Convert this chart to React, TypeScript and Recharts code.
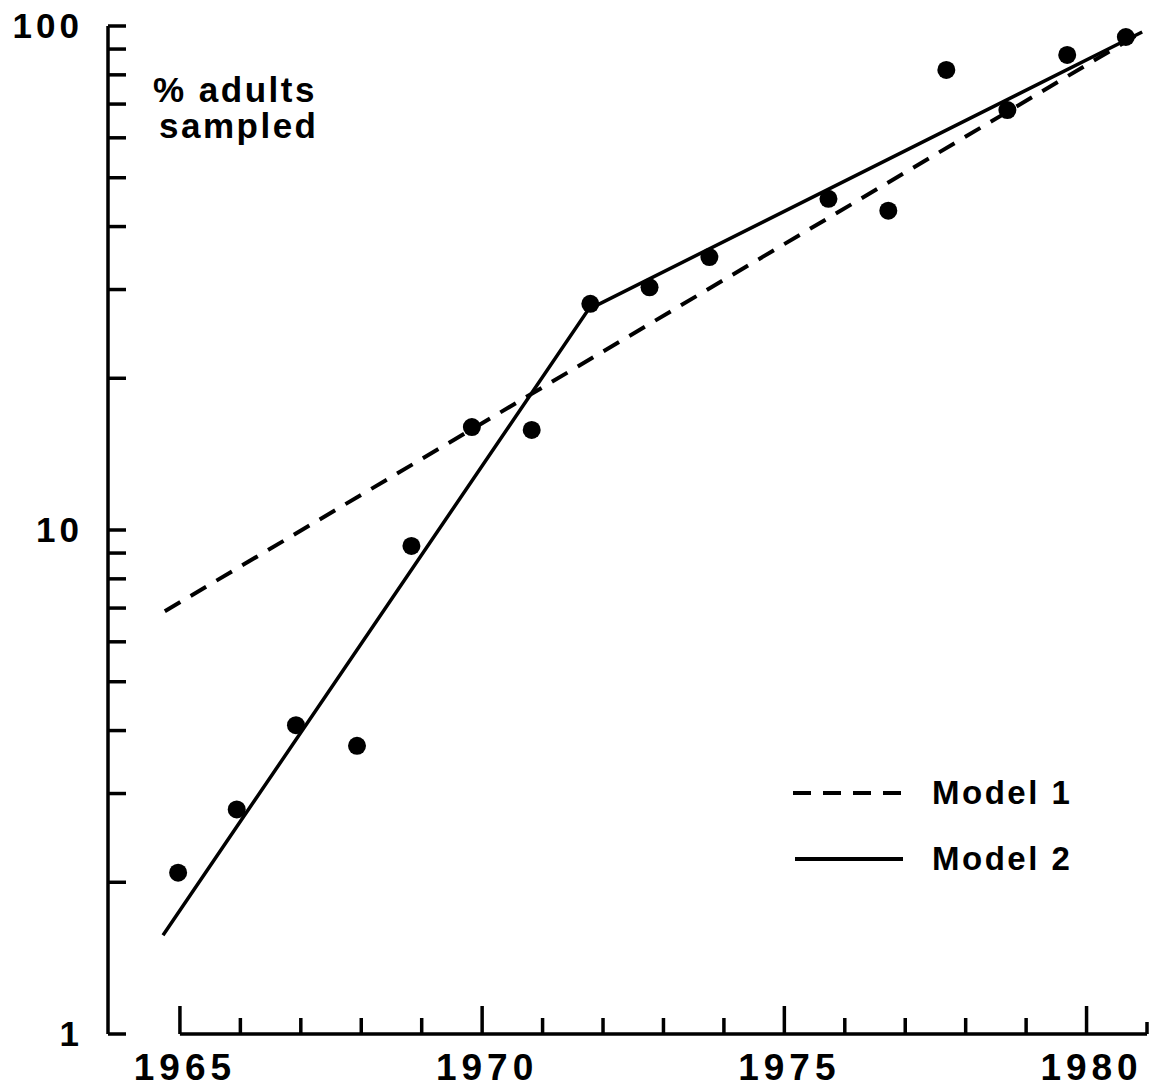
import React from "react";
import {
  ComposedChart,
  Line,
  Scatter,
  XAxis,
  YAxis,
  ReferenceLine,
  Legend,
} from "recharts";

const sampleYears = [
  1964.97, 1965.94, 1966.92, 1967.93, 1968.83, 1969.83, 1970.82, 1971.79,
  1972.77, 1973.76, 1975.73, 1976.72, 1977.68, 1978.69, 1979.68, 1980.65,
];
const samplePct = [
  2.09, 2.79, 4.1, 3.73, 9.3, 16.0, 15.8, 28.1, 30.3, 34.8, 45.4, 43.0, 81.8,
  68.1, 87.6, 95.1,
];

// fitted models (end points / break point)
const model1Years = [1964.75, 1980.92];
const model1Pct = [6.9, 97.3];
const model2Years = [1964.72, 1971.76, 1980.92];
const model2Pct = [1.57, 27.4, 97.3];

const xTicks = [
  1965, 1966, 1967, 1968, 1969, 1970, 1971, 1972, 1973, 1974, 1975, 1976,
  1977, 1978, 1979, 1980, 1981,
];
const xLabels = [1965, 1970, 1975, 1980];
const yTicks = [
  1, 2, 3, 4, 5, 6, 7, 8, 9, 10, 20, 30, 40, 50, 60, 70, 80, 90, 100,
];
const yLabels = [1, 10, 100];

const toRows = (xs: number[], ys: number[]) =>
  xs.map((year, i) => ({ year, pct: ys[i] }));

const samples = toRows(sampleYears, samplePct);
const model1 = toRows(model1Years, model1Pct);
const model2 = toRows(model2Years, model2Pct);

const FONT = '"Liberation Sans", Arial, Helvetica, sans-serif';
const TICK_SIZE = 6;
const TICK_MARGIN = 4;
const DASH = "18 12";

const XTick = (props: any) => {
  const { x, y, payload } = props;
  const v = payload.value;
  const axisY = y - TICK_SIZE - TICK_MARGIN;
  const major = xLabels.includes(v);
  const len = major ? 28 : v === 1981 ? 12 : 16;
  return (
    <g>
      <line
        x1={x}
        x2={x}
        y1={axisY}
        y2={axisY - len}
        stroke="#000"
        strokeWidth={3.5}
      />
      {major && (
        <text
          x={x + 5}
          y={axisY + 46}
          textAnchor="middle"
          fontFamily={FONT}
          fontWeight="bold"
          fontSize={37}
          letterSpacing={5}
          fill="#000"
        >
          {v}
        </text>
      )}
    </g>
  );
};

const YTick = (props: any) => {
  const { x, y, payload } = props;
  const v = payload.value;
  const axisX = x + TICK_SIZE + TICK_MARGIN;
  return (
    <g>
      <line
        x1={axisX}
        x2={axisX + 18}
        y1={y}
        y2={y}
        stroke="#000"
        strokeWidth={3.5}
      />
      {yLabels.includes(v) && (
        <text
          x={axisX - 25}
          y={y + 12}
          textAnchor="end"
          fontFamily={FONT}
          fontWeight="bold"
          fontSize={35}
          letterSpacing={4}
          fill="#000"
        >
          {v}
        </text>
      )}
    </g>
  );
};

const AxisTitle = (props: any) => {
  const vb = props.viewBox || { x: 0, y: 0, width: 0 };
  const left = vb.x + vb.width + 45;
  const textProps = {
    fontFamily: FONT,
    fontWeight: "bold",
    fontSize: 35,
    letterSpacing: 2.5,
    fill: "#000",
  };
  return (
    <g>
      <text x={left} y={vb.y + 76} {...textProps}>
        % adults
      </text>
      <text x={left + 6} y={vb.y + 112} {...textProps}>
        sampled
      </text>
    </g>
  );
};

const LegendBox = () => (
  <svg width={330} height={110}>
    <line x1={13} x2={123} y1={23} y2={23} stroke="#000" strokeWidth={4} strokeDasharray={DASH} />
    <text x={152} y={34} fontFamily={FONT} fontWeight="bold" fontSize={33} letterSpacing={2.5} fill="#000">
      Model 1
    </text>
    <line x1={15} x2={123} y1={89} y2={89} stroke="#000" strokeWidth={4} />
    <text x={152} y={100} fontFamily={FONT} fontWeight="bold" fontSize={33} letterSpacing={2.5} fill="#000">
      Model 2
    </text>
  </svg>
);

const Dot = (props: any) => (
  <circle cx={props.cx} cy={props.cy} r={9} fill="#000" />
);

export default function App() {
  return (
    <div style={{ position: "absolute", left: 0, top: 0, background: "#fff" }}>
      <ComposedChart
        width={1153}
        height={1090}
        margin={{ top: 26, right: 6, left: 0, bottom: 0 }}
      >
        <XAxis
          type="number"
          dataKey="year"
          domain={[1963.81, 1981]}
          ticks={xTicks}
          interval={0}
          allowDataOverflow
          axisLine={false}
          tickLine={false}
          tickSize={TICK_SIZE}
          tickMargin={TICK_MARGIN}
          tick={<XTick />}
          height={56}
        />
        <YAxis
          type="number"
          dataKey="pct"
          scale="log"
          domain={[1, 100]}
          ticks={yTicks}
          interval={0}
          allowDataOverflow
          axisLine={{ stroke: "#000", strokeWidth: 3.5 }}
          tickLine={false}
          tickSize={TICK_SIZE}
          tickMargin={TICK_MARGIN}
          tick={<YTick />}
          width={108}
          label={<AxisTitle />}
        />
        <ReferenceLine
          segment={[
            { x: 1965, y: 1 },
            { x: 1981, y: 1 },
          ]}
          stroke="#000"
          strokeWidth={3.5}
          ifOverflow="visible"
        />
        <Line
          data={model1}
          dataKey="pct"
          type="linear"
          stroke="#000"
          strokeWidth={4}
          strokeDasharray={DASH}
          dot={false}
          activeDot={false}
          isAnimationActive={false}
        />
        <Line
          data={model2}
          dataKey="pct"
          type="linear"
          stroke="#000"
          strokeWidth={3.5}
          dot={false}
          activeDot={false}
          isAnimationActive={false}
        />
        <Scatter
          data={samples}
          dataKey="pct"
          shape={<Dot />}
          isAnimationActive={false}
        />
        <Legend
          layout="horizontal"
          verticalAlign="middle"
          align="center"
          wrapperStyle={{ left: 780, top: 770, width: 330 }}
          content={() => <LegendBox />}
        />
      </ComposedChart>
    </div>
  );
}
